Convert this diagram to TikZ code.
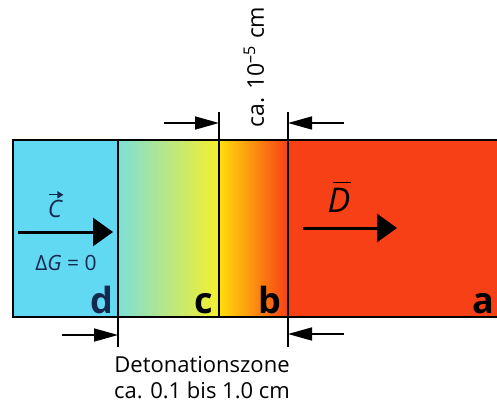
\documentclass[tikz,border=0pt]{standalone}
\usepackage{fontspec}
\setmainfont{Open Sans}
\usetikzlibrary{arrows.meta,positioning,calc}
\definecolor{cyanzone}{RGB}{98,217,242}
\definecolor{tealzone}{RGB}{125,223,215}
\definecolor{limezone}{RGB}{178,228,120}
\definecolor{yellowzone}{RGB}{245,240,45}
\definecolor{goldzone}{RGB}{255,222,10}
\definecolor{orangezone}{RGB}{250,140,25}
\definecolor{redzone}{RGB}{247,64,22}
\definecolor{navyd}{RGB}{20,40,80}

\begin{document}
\begin{tikzpicture}[x=0.5pt,y=-0.5pt,
	zone/.style={draw=black,line width=0.8pt,inner sep=0pt,outer sep=0pt,minimum height=88.5pt},
	tag/.style={font=\bfseries\fontsize{18}{18}\selectfont,anchor=base east,inner sep=0pt},
	bigarrow/.style={-{Triangle[length=10pt,width=14pt]},line width=1.5pt},
	dimarrow/.style={-{Triangle[length=12pt,width=6.5pt]},line width=0.8pt},
	vecarrow/.style={-{Triangle[length=3pt,width=3.5pt]},line width=0.6pt},
	tick/.style={line width=0.8pt}]
			\useasboundingbox (0,0) rectangle (497,407);
			\clip (0,0) rectangle (497,407);
			
			% Zones d, c, b, a
			\node[zone,fill=cyanzone,minimum width=52.5pt] (d) at (65.5,228.5) {};
			\node[zone,left color=tealzone,middle color=limezone,right color=yellowzone,minimum width=50.5pt] (c) at (168.5,228.5) {};
			\node[zone,left color=goldzone,middle color=orangezone,right color=redzone,minimum width=34.5pt] (b) at (253.5,228.5) {};
			\node[zone,fill=redzone,minimum width=120pt] (a) at (408,228.5) {};
			
			% Zone letters
			\node[tag,text=navyd] (ld) at (114,313) {d};
			\node[tag] (lc) at (213,313) {c};
			\node[tag] (lb) at (282,313) {b};
			\node[tag] (la) at (495,313) {a};
			
			% Products C
			\coordinate (cs) at (18,232);
			\coordinate (ce) at (113,232);
			\draw[bigarrow] (cs) -- (ce);
			\node[font=\itshape\fontsize{12}{12}\selectfont,text=navyd,inner sep=0pt] (vc) at (55,209) {C};
			\draw[vecarrow,navyd] ($(vc.north west)+(1,-5)$) -- ($(vc.north east)+(1,-5)$);
			\node[font=\fontsize{10.5}{10.5}\selectfont,text=navyd] (dg) at (66,263) {Δ\textit{G} = 0};
			
			% Detonation D
			\coordinate (ds) at (303,228);
			\coordinate (de) at (397,228);
			\draw[bigarrow] (ds) -- (de);
			\node[font=\itshape\fontsize{17}{17}\selectfont,inner sep=0pt] (vd) at (339,200) {D};
			\draw[line width=0.8pt] ($(vd.north west)+(6,-5)$) -- ($(vd.north east)+(0,-5)$);
			
			% Reaction front (top)
			\coordinate (t1) at ($(c.north east)+(0,-28)$);
			\coordinate (t2) at ($(b.north east)+(0,-28)$);
			\coordinate (t1a) at ($(c.north east)+(-55,-17)$);
			\coordinate (t1b) at ($(c.north east)+(0,-17)$);
			\coordinate (t2a) at ($(b.north east)+(56,-17)$);
			\coordinate (t2b) at ($(b.north east)+(0,-17)$);
			\draw[tick] (c.north east) -- (t1);
			\draw[tick] (b.north east) -- (t2);
			\draw[dimarrow] (t1a) -- (t1b);
			\draw[dimarrow] (t2a) -- (t2b);
			\node[rotate=90,font=\fontsize{11.5}{11.5}\selectfont] (front) at (254,67) {ca. 10\textsuperscript{–5} cm};
			
			% Detonation zone (bottom)
			\coordinate (u1) at ($(d.south east)+(0,30)$);
			\coordinate (u2) at ($(b.south east)+(0,30)$);
			\coordinate (u1a) at ($(d.south east)+(-56,18)$);
			\coordinate (u1b) at ($(d.south east)+(0,18)$);
			\coordinate (u2a) at ($(b.south east)+(56,17)$);
			\coordinate (u2b) at ($(b.south east)+(0,17)$);
			\draw[tick] (d.south east) -- (u1);
			\draw[tick] (b.south east) -- (u2);
			\draw[dimarrow] (u1a) -- (u1b);
			\draw[dimarrow] (u2a) -- (u2b);
			\node[align=center,font=\fontsize{11}{13}\selectfont] (zone) at (202,378) {Detonationszone\\ca. 0.1 bis 1.0 cm};
		\end{tikzpicture}
\end{document}
